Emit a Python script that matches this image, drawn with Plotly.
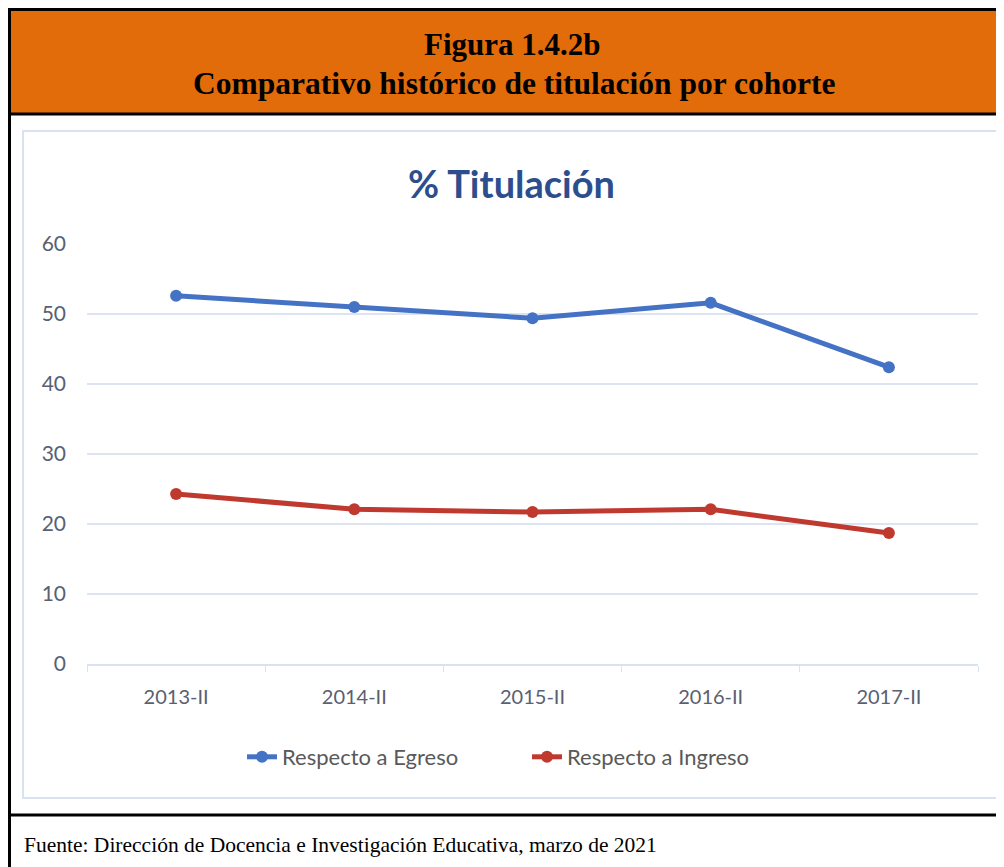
import plotly.graph_objects as go

# data
cohortes = ["2013-II", "2014-II", "2015-II", "2016-II", "2017-II"]
egreso = [52.6, 51.0, 49.4, 51.6, 42.4]
ingreso = [24.3, 22.1, 21.7, 22.1, 18.7]
y_ticks = [0, 10, 20, 30, 40, 50, 60]

# the page puts the figure 8px in from the top-left corner
OFF = 8
W, H = 1004 - OFF, 867 - OFF
PL, PR, PT, PB = 87, 978, 244, 664  # plot area in page pixels


def px(x):
    return (x - PL) / (PR - PL)


def py(y):
    return (PB - y) / (PB - PT)


fig = go.Figure()

fig.add_trace(go.Scatter(
    x=cohortes, y=egreso, mode="lines+markers", name="Respecto a Egreso",
    line=dict(color="#4472C4", width=5),
    marker=dict(size=12, color="#4472C4"),
))
fig.add_trace(go.Scatter(
    x=cohortes, y=ingreso, mode="lines+markers", name="Respecto a Ingreso",
    line=dict(color="#C0392F", width=5),
    marker=dict(size=12, color="#C0392F"),
))

shapes = [
    # orange header
    dict(type="rect", xref="paper", yref="paper",
         x0=px(9.5), x1=px(1012), y0=py(9.5), y1=py(114),
         fillcolor="#E36C0A", line=dict(color="black", width=3), layer="below"),
    # outer box
    dict(type="rect", xref="paper", yref="paper",
         x0=px(9.5), x1=px(1012), y0=py(9.5), y1=py(880),
         line=dict(color="black", width=3), layer="below"),
    # footer separator
    dict(type="line", xref="paper", yref="paper",
         x0=px(9.5), x1=px(1012), y0=py(815), y1=py(815),
         line=dict(color="black", width=3)),
    # chart frame
    dict(type="rect", xref="paper", yref="paper",
         x0=px(23), x1=px(1001), y0=py(131), y1=py(798),
         line=dict(color="#D9E2F1", width=2), layer="below"),
]

annotations = [
    dict(text="<b>Figura 1.4.2b</b>", xref="paper", yref="paper",
         x=px(512), y=py(45), xanchor="center", yanchor="middle",
         showarrow=False,
         font=dict(family="Liberation Serif", size=31, color="black")),
    dict(text="<b>Comparativo histórico de titulación por cohorte</b>",
         xref="paper", yref="paper", x=px(514), y=py(83),
         xanchor="center", yanchor="middle", showarrow=False,
         font=dict(family="Liberation Serif", size=31.5, color="black")),
    dict(text="<b>% Titulación</b>", xref="paper", yref="paper",
         x=px(511), y=py(183), xanchor="center", yanchor="middle",
         showarrow=False,
         font=dict(family="Lato", size=38, color="#2D4E8E")),
    dict(text="Fuente: Dirección de Docencia e Investigación Educativa, marzo de 2021",
         xref="paper", yref="paper", x=px(22), y=py(845),
         xanchor="left", yanchor="middle", showarrow=False,
         font=dict(family="Liberation Serif", size=21.5, color="black")),
]

fig.update_layout(
    width=W, height=H,
    margin=dict(l=PL - OFF, r=1004 - PR, t=PT - OFF, b=867 - PB),
    paper_bgcolor="white", plot_bgcolor="white",
    font=dict(family="Lato", color="#595959"),
    showlegend=True,
    legend=dict(orientation="h", x=px(527), xanchor="center", y=py(757),
                yanchor="middle", font=dict(size=22, color="#595959"),
                entrywidth=240),
    shapes=shapes,
    annotations=annotations,
)

fig.update_xaxes(
    type="category", tickson="boundaries", ticks="outside", ticklen=6,
    tickcolor="#D9E2F1", showline=True, linecolor="#D9E2F1", linewidth=2,
    showgrid=False, tickfont=dict(size=20, color="#5A6070"),
    ticklabelstandoff=14, range=[-0.5, 4.5],
)
fig.update_yaxes(
    range=[0, 60], tickvals=y_ticks, showgrid=True, gridcolor="#DCE4F2",
    gridwidth=1.5, zeroline=False, ticks="", ticklabelstandoff=20,
    tickfont=dict(size=21, color="#5A6070"),
)

fig.write_html("out.html")
